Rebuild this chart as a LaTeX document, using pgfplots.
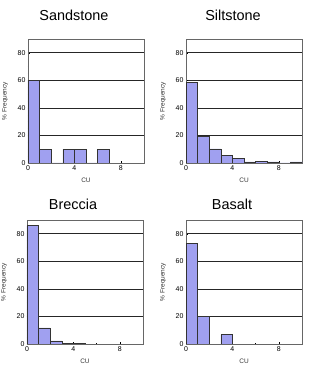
\documentclass[border=0pt]{standalone}
\usepackage{pgfplots}
\pgfplotsset{compat=1.18}
\usepackage{fontspec}
\setmainfont{Liberation Sans}
\definecolor{barfill}{RGB}{160,160,240}
\pgfplotsset{
  rock/.style={
    width=116bp, height=124bp, scale only axis,
    anchor=south west,
    xmin=0, xmax=10, ymin=0, ymax=90,
    xtick={0,4,8}, ytick={0,20,40,60,80},
    minor x tick num=1, minor y tick num=3,
    tick align=inside, tick style={black, thin},
    major tick length=2bp, minor tick length=1.2bp,
    xtick pos=bottom, ytick pos=left,
    ymajorgrids, major grid style={black!85, line width=0.6pt},
    axis line style={black!60, line width=0.6pt},
    ticklabel style={font=\fontsize{7}{8}\selectfont},
    /pgf/number format/assume math mode=true,
    xlabel={CU}, ylabel={\% Frequency},
    label style={font=\fontsize{6.5}{7}\selectfont, black!80},
    xlabel style={yshift=-1bp},
    ylabel style={yshift=3bp},
    xticklabel style={yshift=1bp},
    yticklabel style={xshift=1bp},
  },
  bars/.style={ybar interval, fill=barfill, draw=black!80, line width=0.6pt}
}
\begin{document}
\begin{tikzpicture}[x=1bp,y=1bp]
\useasboundingbox (0,0) rectangle (333,386);
% Sandstone
\begin{axis}[rock, at={(28bp,223bp)}]
\addplot[bars] coordinates {(0,60) (1,10) (2,0) (3,10) (4,10) (5,0) (6,10) (7,0)};
\end{axis}
% Siltstone
\begin{axis}[rock, at={(186bp,223bp)}]
\addplot[bars] coordinates {(0,58.5) (1,19.5) (2,10.3) (3,5.4) (4,3.2) (5,0.8) (6,1.3) (7,0.8) (8,0) (9,0.8) (10,0)};
\end{axis}
% Breccia
\begin{axis}[rock, at={(27bp,42bp)}]
\addplot[bars] coordinates {(0,85.8) (1,11.7) (2,2.2) (3,0.6) (4,0.6) (5,0)};
\end{axis}
% Basalt
\begin{axis}[rock, at={(186bp,42bp)}]
\addplot[bars] coordinates {(0,73.2) (1,20.2) (2,0) (3,6.8) (4,0)};
\end{axis}
\node[font=\fontsize{14.5}{16}\selectfont] at (74,371) {Sandstone};
\node[font=\fontsize{14.5}{16}\selectfont] at (233,371) {Siltstone};
\node[font=\fontsize{14.5}{16}\selectfont] at (73,182) {Breccia};
\node[font=\fontsize{14.5}{16}\selectfont] at (232,182) {Basalt};
\end{tikzpicture}
\end{document}
